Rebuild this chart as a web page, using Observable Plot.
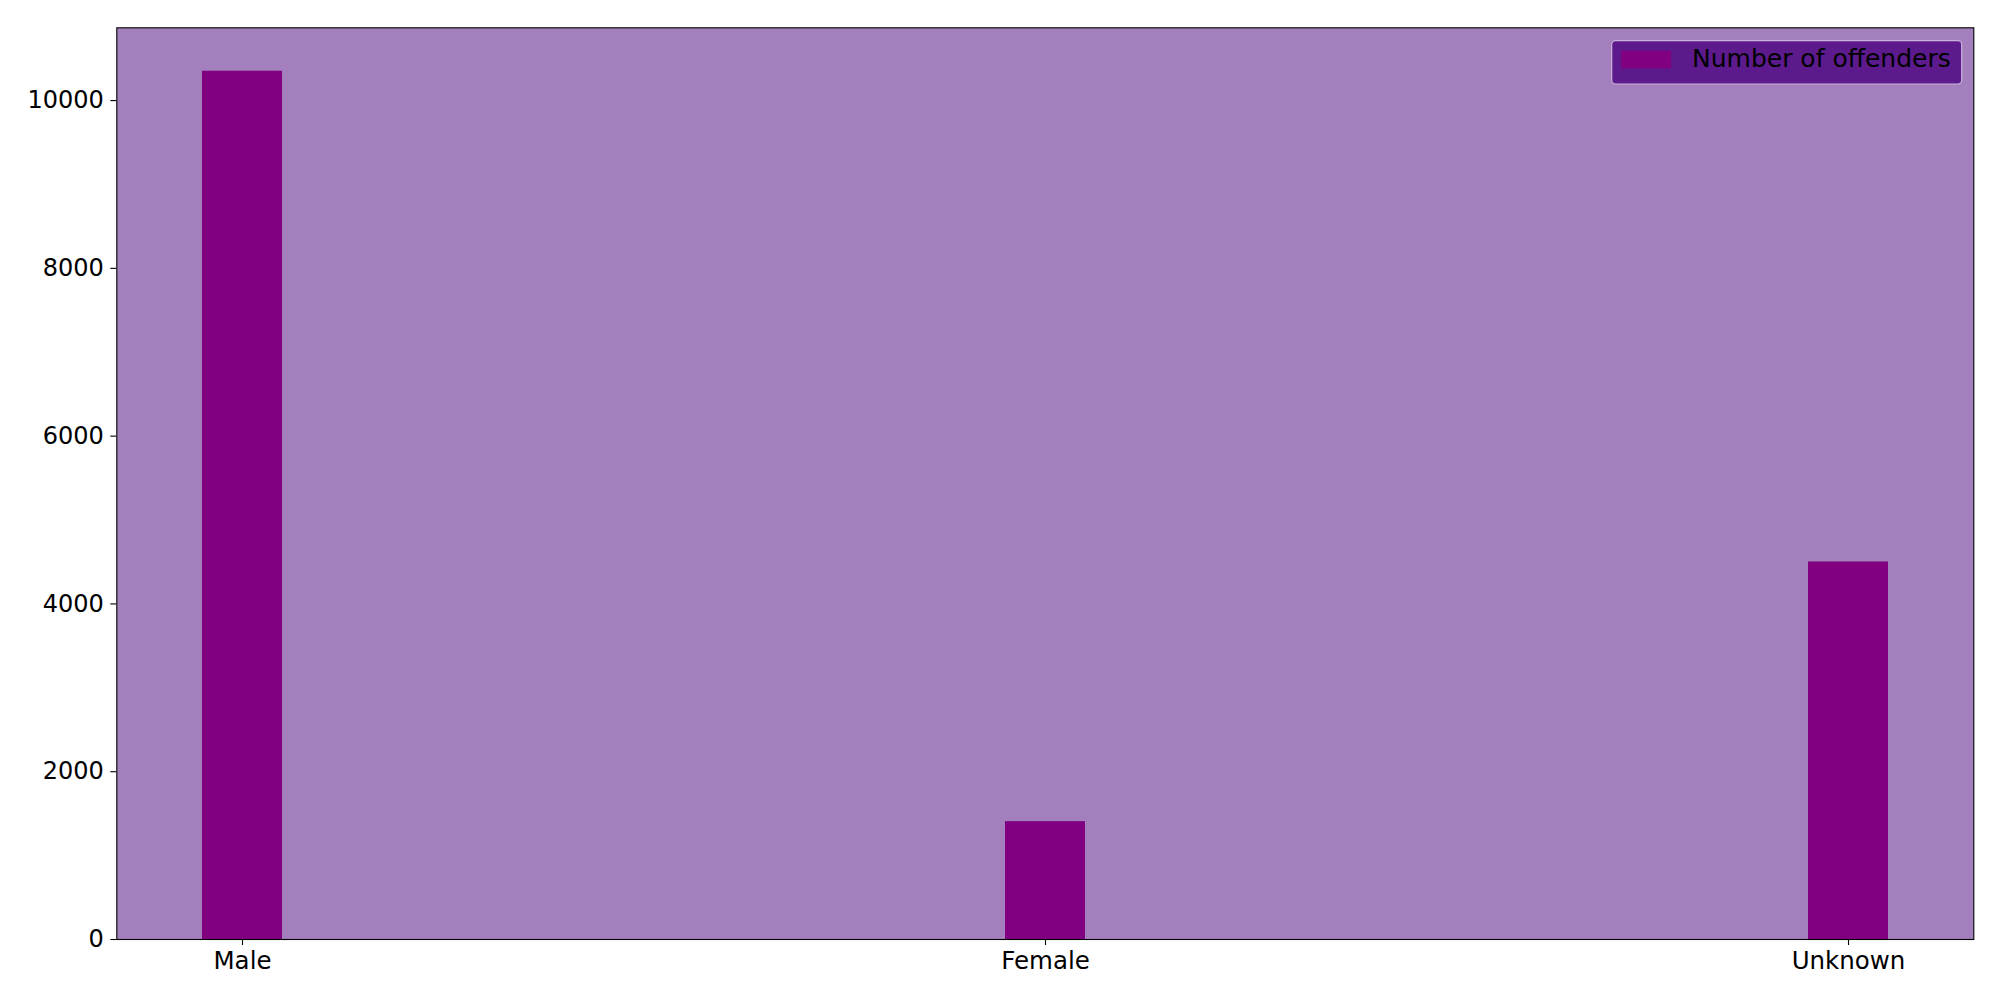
<!DOCTYPE html>
<html>
<head>
<meta charset="utf-8">
<script src="https://cdn.jsdelivr.net/npm/d3@7"></script>
<script src="https://cdn.jsdelivr.net/npm/@observablehq/plot@0.6"></script>
<style>
  html, body { margin: 0; padding: 0; background: white; }
  #wrap { position: relative; width: 2000px; height: 1000px; }
  #legend { position: absolute; left: 0; top: 0; pointer-events: none; }
</style>
</head>
<body>
<div id="wrap"></div>
<script>
const categories = ["Male", "Female", "Unknown"];
const offenders = [10350, 1405, 4500];
const yTicks = [0, 2000, 4000, 6000, 8000, 10000];
const seriesName = "Number of offenders";

const data = categories.map((c, i) => ({category: c, value: offenders[i]}));
const yMax = d3.max(offenders) * 1.05;

const chart = Plot.plot({
  width: 2000,
  height: 1000,
  marginLeft: 116.3,
  marginRight: 26.7,
  marginTop: 27.3,
  marginBottom: 61,
  style: {fontFamily: "'DejaVu Sans', sans-serif", fontSize: "25px", color: "black", background: "white", overflow: "visible"},
  x: {domain: categories, paddingInner: 0.9, paddingOuter: 0.1056, align: 0.5, label: null},
  y: {domain: [0, yMax], label: null},
  marks: [
    Plot.frame({fill: "#a47fbe", stroke: "none"}),
    Plot.barY(data, {x: "category", y: "value", fill: "#800080", inset: 0}),
    Plot.frame({stroke: "black", strokeWidth: 1.1}),
    Plot.axisX({tickSize: 6, tickPadding: 6.5, stroke: "black", strokeWidth: 1.1, fill: "black", fontSize: 24.5}),
    Plot.axisY({ticks: yTicks, tickSize: 6, tickPadding: 7, tickFormat: d3.format("d"), stroke: "black", strokeWidth: 1.1, fill: "black", fontSize: 24})
  ]
});

const wrap = document.getElementById("wrap");
wrap.appendChild(chart);

// legend overlay
const ns = "http://www.w3.org/2000/svg";
const lg = document.createElementNS(ns, "svg");
lg.setAttribute("id", "legend");
lg.setAttribute("width", 2000);
lg.setAttribute("height", 1000);
const box = document.createElementNS(ns, "rect");
box.setAttribute("x", 1611.7); box.setAttribute("y", 40.7);
box.setAttribute("width", 350); box.setAttribute("height", 43.3);
box.setAttribute("rx", 4); box.setAttribute("fill", "#5c1a8c");
box.setAttribute("stroke", "#c9b3d9"); box.setAttribute("stroke-width", 1.2);
lg.appendChild(box);
const patch = document.createElementNS(ns, "rect");
patch.setAttribute("x", 1621); patch.setAttribute("y", 50.7);
patch.setAttribute("width", 50); patch.setAttribute("height", 17.6);
patch.setAttribute("fill", "#800080");
lg.appendChild(patch);
const txt = document.createElementNS(ns, "text");
txt.setAttribute("x", 1692); txt.setAttribute("y", 67);
txt.setAttribute("font-family", "'DejaVu Sans', sans-serif");
txt.setAttribute("font-size", "25px");
txt.setAttribute("fill", "black");
txt.textContent = seriesName;
lg.appendChild(txt);
wrap.appendChild(lg);
</script>
</body>
</html>
